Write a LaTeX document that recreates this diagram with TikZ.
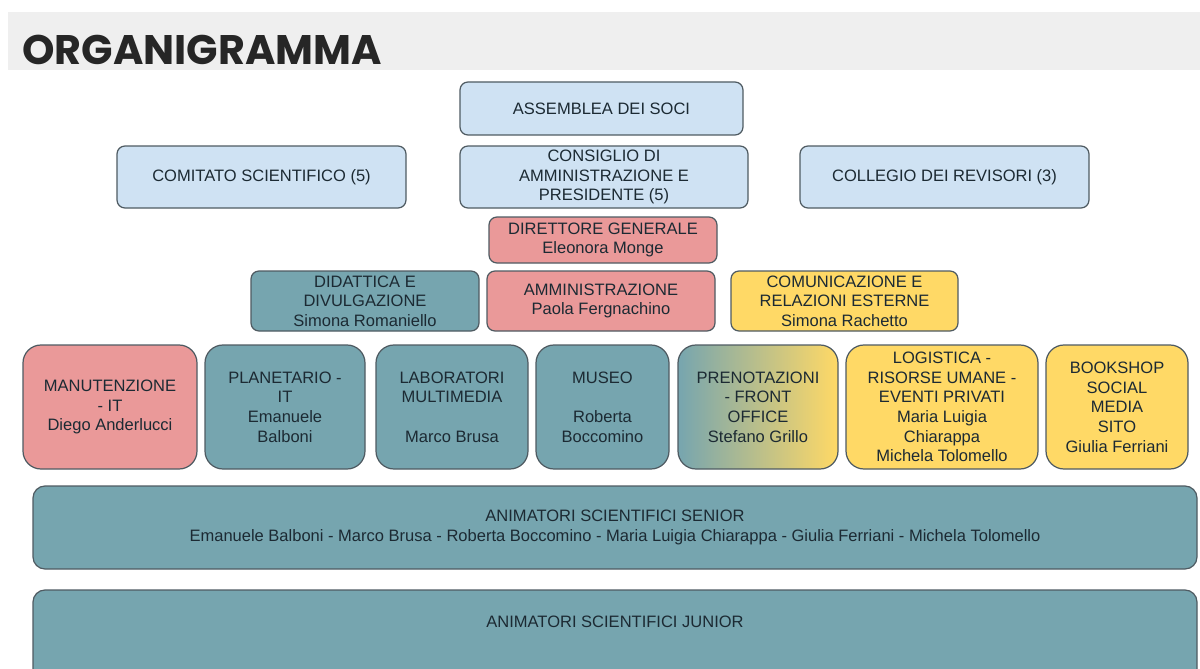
\documentclass[tikz,border=0pt]{standalone}
\usepackage{fontspec}
\setmainfont{Liberation Sans}
\newfontfamily\titlefont{Poppins}
\usepackage{xcolor}
\usetikzlibrary{positioning}

\definecolor{cellblue}{HTML}{CFE2F3}
\definecolor{cellred}{HTML}{EA9999}
\definecolor{cellteal}{HTML}{76A5AF}
\definecolor{cellyellow}{HTML}{FFD966}
\definecolor{cellline}{HTML}{4F5B62}
\definecolor{celltext}{HTML}{1C2A33}
\definecolor{titlebar}{HTML}{EFEFEF}

\tikzset{
  unit/.style={draw=cellline, line width=0.7pt, align=center, inner sep=0pt,
    text=celltext, font=\fontsize{9.4}{11.2}\selectfont},
  topbox/.style={unit, rounded corners=0.16cm},
  rowbox/.style={unit, rounded corners=0.36cm, minimum height=124*\u},
  wide/.style={unit, rounded corners=0.24cm, minimum width=1164*\u},
  bluecell/.style={fill=cellblue},
  redcell/.style={fill=cellred},
  tealcell/.style={fill=cellteal},
  yellowcell/.style={fill=cellyellow},
}
\def\u{0.02cm}

\begin{document}
\begin{tikzpicture}[x=0.02cm, y=-0.02cm]
  \useasboundingbox (0,0) rectangle (1200,669);
  % title band
  \fill[titlebar] (8,12) rectangle (1200,70);
  \node[anchor=base west, inner sep=0pt, font=\titlefont\bfseries\fontsize{23.5}{28}\selectfont,
    text=black!85] (title) at (22,65) {ORGANIGRAMMA};

  % governing bodies
  \node[topbox, bluecell, minimum width=283*\u, minimum height=53*\u] (soci) at (601.5,108.5)
    {ASSEMBLEA DEI SOCI};
  \node[topbox, bluecell, minimum width=289*\u, minimum height=62*\u] (comitato) at (261.5,177)
    {COMITATO SCIENTIFICO (5)};
  \node[topbox, bluecell, minimum width=288*\u, minimum height=62*\u] (consiglio) at (604,177)
    {CONSIGLIO DI\\AMMINISTRAZIONE E\\PRESIDENTE (5)};
  \node[topbox, bluecell, minimum width=289*\u, minimum height=62*\u] (revisori) at (944.5,177)
    {COLLEGIO DEI REVISORI (3)};

  % direction
  \node[topbox, redcell, minimum width=228*\u, minimum height=46*\u] (direttore) at (603,240)
    {DIRETTORE GENERALE\\Eleonora Monge};

  % areas
  \node[topbox, tealcell, minimum width=228*\u, minimum height=60*\u] (didattica) at (365,301)
    {DIDATTICA E\\DIVULGAZIONE\\Simona Romaniello};
  \node[topbox, redcell, minimum width=228*\u, minimum height=60*\u] (ammin) at (601,301)
    {AMMINISTRAZIONE\\Paola Fergnachino};
  \node[topbox, yellowcell, minimum width=227*\u, minimum height=60*\u] (comunic) at (844.5,301)
    {COMUNICAZIONE E\\RELAZIONI ESTERNE\\Simona Rachetto};

  % offices
  \node[rowbox, redcell, minimum width=174*\u] (manut) at (110,407)
    {MANUTENZIONE\\- IT\\Diego Anderlucci};
  \node[rowbox, tealcell, minimum width=160*\u] (planet) at (285,407)
    {PLANETARIO -\\IT\\Emanuele\\Balboni};
  \node[rowbox, tealcell, minimum width=152*\u] (lab) at (452,407)
    {LABORATORI\\MULTIMEDIA\\\mbox{}\\Marco Brusa};
  \node[rowbox, tealcell, minimum width=133*\u] (museo) at (602.5,407)
    {MUSEO\\\mbox{}\\Roberta\\Boccomino};
  \node[rowbox, left color=cellteal, right color=cellyellow, minimum width=160*\u] (prenot) at (758,407)
    {PRENOTAZIONI\\- FRONT\\OFFICE\\Stefano Grillo};
  \node[rowbox, yellowcell, minimum width=192*\u] (logist) at (942,407)
    {LOGISTICA -\\RISORSE UMANE -\\EVENTI PRIVATI\\Maria Luigia\\Chiarappa\\Michela Tolomello};
  \node[rowbox, yellowcell, minimum width=142*\u] (book) at (1117,407)
    {BOOKSHOP\\SOCIAL\\MEDIA\\SITO\\Giulia Ferriani};

  % animators
  \node[wide, tealcell, minimum height=83*\u] (senior) at (615,527.5)
    {ANIMATORI SCIENTIFICI SENIOR\\Emanuele Balboni - Marco Brusa - Roberta Boccomino - Maria Luigia Chiarappa - Giulia Ferriani - Michela Tolomello};
  \node[wide, tealcell, minimum height=96*\u, text depth=32*\u] (junior) at (615,638)
    {ANIMATORI SCIENTIFICI JUNIOR};
\end{tikzpicture}
\end{document}
